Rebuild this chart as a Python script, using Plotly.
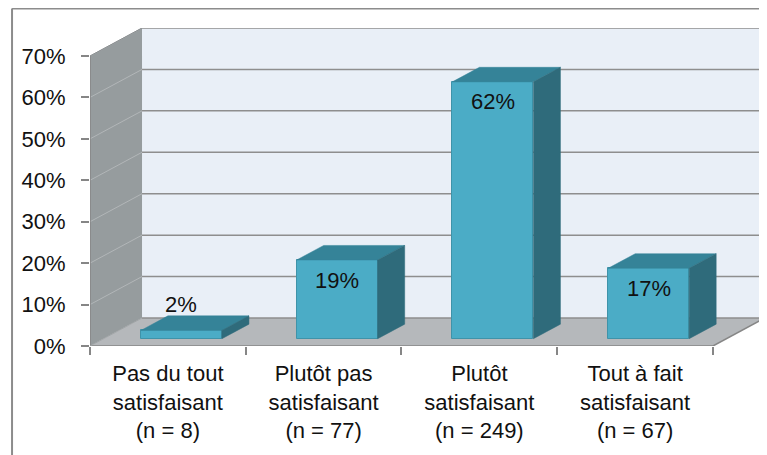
import plotly.graph_objects as go

# ---------------- data ----------------
categories = ["Pas du tout<br>satisfaisant<br>(n = 8)",
              "Plutôt pas<br>satisfaisant<br>(n = 77)",
              "Plutôt<br>satisfaisant<br>(n = 249)",
              "Tout à fait<br>satisfaisant<br>(n = 67)"]
values = [2, 19, 62, 17]
value_labels = ["2%", "19%", "62%", "17%"]
y_ticks = [0, 10, 20, 30, 40, 50, 60, 70]
y_tick_labels = ["0%", "10%", "20%", "30%", "40%", "50%", "60%", "70%"]

# ---------------- 3D geometry (in data units) ----------------
Y_MAX = 70
DX = 0.334          # depth offset along x (category units)
DY = 6.76           # depth offset along y (percent units)
BAR_W = 0.52        # bar width (category units)
F0 = 0.26           # front face position as fraction of depth
FD = 0.52           # bar depth as fraction of depth
n = len(values)

FONT = "Liberation Sans"
C_FRONT = "#4BACC6"
C_TOP = "#358398"
C_SIDE = "#2F6B7B"
C_EDGE = "#3F93A9"
C_WALL = "#E9EFF7"
C_SIDEWALL = "#969C9E"
C_FLOOR = "#B5B8BB"
C_GRID = "#8E8E8E"

fig = go.Figure()

shapes = []
# back wall
shapes.append(dict(type="rect", xref="x", yref="y", x0=DX, x1=n + DX, y0=DY, y1=Y_MAX + DY,
                   fillcolor=C_WALL, line=dict(width=0), layer="below"))
# side wall
shapes.append(dict(type="path", xref="x", yref="y",
                   path=f"M 0,0 L 0,{Y_MAX} L {DX},{Y_MAX + DY} L {DX},{DY} Z",
                   fillcolor=C_SIDEWALL, line=dict(width=0), layer="below"))
# floor
shapes.append(dict(type="path", xref="x", yref="y",
                   path=f"M 0,0 L {n},0 L {n + DX},{DY} L {DX},{DY} Z",
                   fillcolor=C_FLOOR, line=dict(width=0), layer="below"))
# gridlines on back wall and side wall
for t in y_ticks:
    shapes.append(dict(type="line", xref="x", yref="y", x0=DX, x1=n + DX, y0=t + DY, y1=t + DY,
                       line=dict(color=C_GRID, width=1.5), layer="below"))
    if t > 0:
        shapes.append(dict(type="line", xref="x", yref="y", x0=0, x1=DX, y0=t, y1=t + DY,
                           line=dict(color="#B2B6B8", width=1), layer="below"))
# side wall top edge and front edge
shapes.append(dict(type="line", xref="x", yref="y", x0=0, x1=DX, y0=Y_MAX, y1=Y_MAX + DY,
                   line=dict(color="#8A8E90", width=1), layer="below"))
shapes.append(dict(type="line", xref="x", yref="y", x0=0, x1=0, y0=0, y1=Y_MAX,
                   line=dict(color="#868686", width=1.5), layer="below"))
# floor front and right edges
shapes.append(dict(type="line", xref="x", yref="y", x0=0, x1=n, y0=0, y1=0,
                   line=dict(color="#868686", width=1.5), layer="below"))
shapes.append(dict(type="line", xref="x", yref="y", x0=n, x1=n + DX, y0=0, y1=DY,
                   line=dict(color="#868686", width=1.5), layer="below"))
shapes.append(dict(type="line", xref="x", yref="y", x0=0, x1=DX, y0=0, y1=DY,
                   line=dict(color="#A0A4A6", width=1), layer="below"))
# outer frame (left and top)
shapes.append(dict(type="line", xref="paper", yref="paper", x0=-0.1155, x1=-0.1155, y0=-0.5, y1=1.0615,
                   line=dict(color="#8C8C8C", width=2)))
shapes.append(dict(type="line", xref="paper", yref="paper", x0=-0.1155, x1=1.2, y0=1.0615, y1=1.0615,
                   line=dict(color="#8C8C8C", width=2)))

fx = F0 * DX
fy = F0 * DY
ddx = FD * DX
ddy = FD * DY
centers = [i + 0.5 + fx for i in range(n)]

# front faces
fig.add_trace(go.Bar(x=centers, y=values, base=[fy] * n, width=BAR_W,
                     marker=dict(color=C_FRONT, line=dict(color=C_EDGE, width=1)),
                     hoverinfo="skip", showlegend=False))

# top and side faces
for c, v in zip(centers, values):
    xl, xr = c - BAR_W / 2, c + BAR_W / 2
    top = v + fy
    fig.add_trace(go.Scatter(x=[xl, xr, xr + ddx, xl + ddx, xl],
                             y=[top, top, top + ddy, top + ddy, top],
                             mode="lines", fill="toself", fillcolor=C_TOP,
                             line=dict(color=C_TOP, width=0.5),
                             hoverinfo="skip", showlegend=False))
    fig.add_trace(go.Scatter(x=[xr, xr, xr + ddx, xr + ddx, xr],
                             y=[fy, top, top + ddy, fy + ddy, fy],
                             mode="lines", fill="toself", fillcolor=C_SIDE,
                             line=dict(color=C_SIDE, width=0.5),
                             hoverinfo="skip", showlegend=False))

# secondary axis for category boundary ticks
fig.add_trace(go.Scatter(x=[0, n], y=[0, 0], xaxis="x2", mode="markers",
                         marker=dict(opacity=0), hoverinfo="skip", showlegend=False))

annotations = []
for c, v, lab in zip(centers, values, value_labels):
    inside = v >= 5
    annotations.append(dict(x=c, y=v + fy, xref="x", yref="y", text=lab, showarrow=False,
                            yanchor="middle", yshift=-20 if inside else 26,
                            font=dict(family=FONT, size=22, color="#111111")))

# the page body has an 8px default margin: the figure starts at (8, 8)
fig.update_layout(
    width=759, height=447,
    margin=dict(l=82, r=2, t=20, b=109, autoexpand=False),
    paper_bgcolor="white", plot_bgcolor="rgba(0,0,0,0)",
    shapes=shapes, annotations=annotations,
    bargap=0,
    font=dict(family=FONT, size=22, color="#111111"),
    xaxis=dict(range=[0, n + DX], tickvals=[i + 0.5 for i in range(n)], ticktext=categories,
               ticks="", showgrid=False, zeroline=False, showline=False, automargin=False,
               tickfont=dict(family=FONT, size=22, color="#111111"), ticklabelstandoff=12),
    xaxis2=dict(range=[0, n + DX], overlaying="x", side="bottom", anchor="y",
                tickvals=list(range(n + 1)), ticks="outside", ticklen=8, tickwidth=1.5,
                tickcolor="#868686", showticklabels=False, showgrid=False, zeroline=False,
                showline=False, automargin=False),
    yaxis=dict(range=[0, Y_MAX + DY], tickvals=y_ticks, ticktext=y_tick_labels,
               ticks="outside", ticklen=8, tickwidth=1.5, tickcolor="#868686",
               showgrid=False, zeroline=False, showline=False, automargin=False,
               tickfont=dict(family=FONT, size=22, color="#111111"), ticklabelstandoff=11),
)

fig.write_html("out.html")
